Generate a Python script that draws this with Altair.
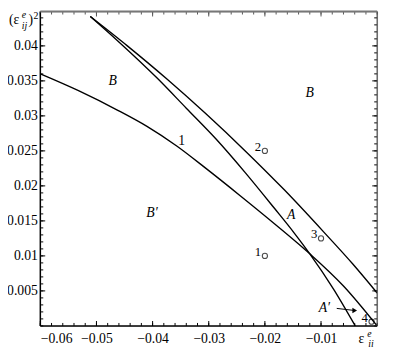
import altair as alt
import pandas as pd

# ---------------- data ----------------
c1_x = [-0.0600, -0.0532, -0.0462, -0.0410, -0.0357, -0.0305, -0.0244, -0.0183, -0.0120, -0.0060, 0.0000]
c1_y = [0.0360, 0.0336, 0.0308, 0.0285, 0.0257, 0.0225, 0.0186, 0.0146, 0.0103, 0.0057, 0.0000]

c2_x = [-0.0511, -0.0462, -0.0392, -0.0340, -0.0287, -0.0235, -0.0183, -0.0148, -0.0120, -0.0078, -0.0039]
c2_y = [0.0442, 0.0407, 0.0354, 0.0311, 0.0267, 0.0219, 0.0168, 0.0133, 0.0103, 0.0053, 0.0000]

c3_x = [-0.0511, -0.0445, -0.0375, -0.0305, -0.0235, -0.0165, -0.0095, -0.0043, 0.0000]
c3_y = [0.0442, 0.0400, 0.0353, 0.0303, 0.0250, 0.0194, 0.0134, 0.0088, 0.0047]

pt_labels = ["1", "2", "3", "4"]
pt_x = [-0.020, -0.020, -0.010, -0.001]
pt_y = [0.0100, 0.0250, 0.0125, 0.0006]

region_text = ["B", "B", "B\u2032", "A", "A\u2032"]
region_x = [-0.0471, -0.0120, -0.0401, -0.0153, -0.0094]
region_y = [0.0349, 0.0332, 0.0161, 0.0158, 0.0025]

curve_label = ["1"]
curve_label_x = [-0.0348]
curve_label_y = [0.0264]

arrow_x = [-0.0072, -0.0040]
arrow_y = [0.0025, 0.0022]

x_major = [-0.06, -0.05, -0.04, -0.03, -0.02, -0.01]
y_major = [0.005, 0.01, 0.015, 0.02, 0.025, 0.03, 0.035, 0.04]

# ---------------- layout ----------------
W, H = 344, 321
XD = [-0.06, 0.0]
YD = [0.0, 0.0449]
SERIF = "Liberation Serif, Times New Roman, serif"

xs = alt.Scale(domain=XD, nice=False, zero=False)
ys = alt.Scale(domain=YD, nice=False, zero=False)

rows = []
for cid, xx, yy in (("c1", c1_x, c1_y), ("c2", c2_x, c2_y), ("c3", c3_x, c3_y)):
    for i, (a, b) in enumerate(zip(xx, yy)):
        rows.append({"curve": cid, "i": i, "x": a, "y": b})
curves_df = pd.DataFrame(rows)

base_axes = alt.Chart(pd.DataFrame({"x": [XD[0]], "y": [YD[0]]})).mark_point(opacity=0).encode(
    x=alt.X("x:Q", scale=xs, axis=alt.Axis(values=x_major, format=".2~f", title=None, grid=False,
                                           ticks=False, tickSize=0, domain=False, labelPadding=6,
                                           labelFont=SERIF, labelFontSize=14, labelColor="black")),
    y=alt.Y("y:Q", scale=ys, axis=alt.Axis(values=y_major, format=".3~f", title=None, grid=False,
                                           ticks=False, tickSize=0, domain=False, labelPadding=3,
                                           labelFont=SERIF, labelFontSize=14, labelColor="black")),
)

lines = alt.Chart(curves_df).mark_line(color="black", strokeWidth=1.4, interpolate="monotone", clip=True).encode(
    x=alt.X("x:Q", scale=xs), y=alt.Y("y:Q", scale=ys), detail="curve:N", order="i:Q"
)

# inward ticks (positions from tick lists)
xminor = [round(-0.06 + 0.002 * k, 4) for k in range(31)]
yminor = [round(0.001 * k, 4) for k in range(45)]
xt_major = pd.DataFrame({"x": x_major})
xt_minor = pd.DataFrame({"x": xminor})
yt_major = pd.DataFrame({"y": y_major})
yt_minor = pd.DataFrame({"y": yminor})

def xticks(df, L, top, color):
    y0 = 0 if top else H
    y1 = L if top else H - L
    return alt.Chart(df).mark_rule(color=color, strokeWidth=1).encode(
        x=alt.X("x:Q", scale=xs), y=alt.value(y0), y2=alt.value(y1))

def yticks(df, L, right, color):
    x0 = W if right else 0
    x1 = W - L if right else L
    return alt.Chart(df).mark_rule(color=color, strokeWidth=1).encode(
        y=alt.Y("y:Q", scale=ys), x=alt.value(x0), x2=alt.value(x1))

ticks = [
    xticks(xt_major, 5, False, "black"), xticks(xt_minor, 3, False, "black"),
    xticks(xt_major, 5, True, "#555"), xticks(xt_minor, 3, True, "#555"),
    yticks(yt_major, 5, False, "black"), yticks(yt_minor, 3, False, "black"),
    yticks(yt_major, 5, True, "black"), yticks(yt_minor, 3, True, "black"),
]

one = pd.DataFrame({"a": [0]})
frame = [
    alt.Chart(one).mark_rule(color="black", strokeWidth=1.5).encode(
        x=alt.value(0), x2=alt.value(W), y=alt.value(H)),
    alt.Chart(one).mark_rule(color="black", strokeWidth=1.5).encode(
        x=alt.value(0), y=alt.value(0), y2=alt.value(H)),
    alt.Chart(one).mark_rule(color="#444", strokeWidth=1.2).encode(
        x=alt.value(W), y=alt.value(0), y2=alt.value(H)),
    alt.Chart(one).mark_rule(color="#777", strokeWidth=2).encode(
        x=alt.value(0), x2=alt.value(W), y=alt.value(0)),
]

pts_df = pd.DataFrame({"x": pt_x, "y": pt_y, "t": pt_labels})
pts = alt.Chart(pts_df).mark_point(shape="circle", size=28, filled=False, color="black", strokeWidth=1.1).encode(
    x=alt.X("x:Q", scale=xs), y=alt.Y("y:Q", scale=ys))
pt_text = alt.Chart(pts_df).mark_text(font=SERIF, fontSize=13, dx=-7, dy=-4, color="black").encode(
    x=alt.X("x:Q", scale=xs), y=alt.Y("y:Q", scale=ys), text="t:N")

reg_df = pd.DataFrame({"x": region_x, "y": region_y, "t": region_text})
reg_text = alt.Chart(reg_df).mark_text(font=SERIF, fontSize=14, fontStyle="italic", color="black").encode(
    x=alt.X("x:Q", scale=xs), y=alt.Y("y:Q", scale=ys), text="t:N")

cl_df = pd.DataFrame({"x": curve_label_x, "y": curve_label_y, "t": curve_label})
cl_text = alt.Chart(cl_df).mark_text(font=SERIF, fontSize=14, color="black").encode(
    x=alt.X("x:Q", scale=xs), y=alt.Y("y:Q", scale=ys), text="t:N")

arr_df = pd.DataFrame({"x": [arrow_x[0]], "y": [arrow_y[0]], "x2": [arrow_x[1]], "y2": [arrow_y[1]]})
arrow_line = alt.Chart(arr_df).mark_rule(color="black", strokeWidth=1).encode(
    x=alt.X("x:Q", scale=xs), y=alt.Y("y:Q", scale=ys), x2="x2:Q", y2="y2:Q")
arrow_head = alt.Chart(pd.DataFrame({"x": [arrow_x[1]], "y": [arrow_y[1]]})).mark_point(
    shape="triangle-right", size=30, filled=True, color="black", opacity=1).encode(
    x=alt.X("x:Q", scale=xs), y=alt.Y("y:Q", scale=ys))

# axis titles composed of pieces
def txt(s, x, y, size, style="normal"):
    return alt.Chart(pd.DataFrame({"t": [s]})).mark_text(
        font=SERIF, fontSize=size, fontStyle=style, align="left", baseline="alphabetic", color="black"
    ).encode(x=alt.value(x), y=alt.value(y), text="t:N")

ytitle = [
    txt("(\u03b5", -32, 13, 14),
    txt("e", -19, 7, 10, "italic"),
    txt("ij", -19, 18, 10, "italic"),
    txt(")", -12, 13, 14),
    txt("2", -7, 8, 10),
]
xtitle = [
    txt("\u03b5", 325, 338, 14),
    txt("e", 334, 332, 10, "italic"),
    txt("ii", 335, 343, 10, "italic"),
]

chart = alt.layer(
    base_axes, lines, *ticks, *frame, pts, pt_text, reg_text, cl_text, arrow_line, arrow_head, *ytitle, *xtitle
).properties(
    width=W, height=H, autosize="none",
    padding={"left": 33, "top": 0, "right": 8, "bottom": 23},
).configure_view(stroke=None).configure(background="white")

chart.save("out.html", embed_options={"renderer": "svg", "actions": False})
